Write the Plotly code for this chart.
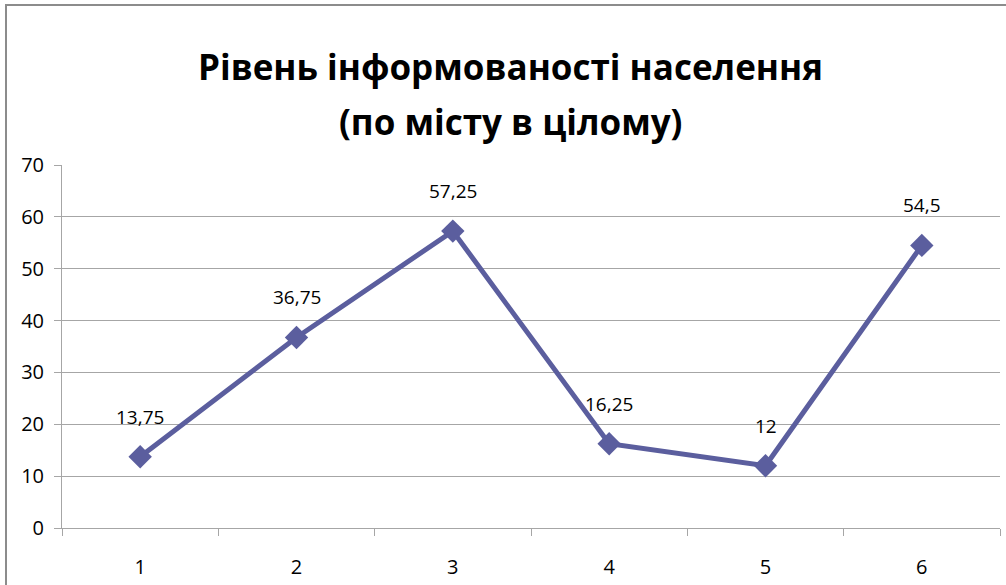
import plotly.graph_objects as go

categories = ["1", "2", "3", "4", "5", "6"]
values = [13.75, 36.75, 57.25, 16.25, 12, 54.5]
title_lines = ["Рівень інформованості населення", "(по місту в цілому)"]
y_ticks = [0, 10, 20, 30, 40, 50, 60, 70]

def fmt(v):
    s = ("%g" % v)
    return s.replace(".", ",")

LINE = "#5B5E9E"
GRID = "#A6A6A6"
FONT = "Open Sans"

fig = go.Figure()
fig.add_trace(go.Scatter(
    x=categories, y=values, mode="lines+markers",
    line=dict(color=LINE, width=5),
    marker=dict(symbol="diamond", size=18, color=LINE),
    hoverinfo="skip", showlegend=False,
))

for i, v in enumerate(values):
    fig.add_annotation(x=i, y=v, text=fmt(v), showarrow=False, yshift=40,
                       font=dict(family=FONT, size=19, color="black"))

fig.add_annotation(xref="paper", yref="paper", x=0.478, y=1.272, text=title_lines[0],
                   showarrow=False, yanchor="middle",
                   font=dict(family=FONT, size=35, color="black", weight="bold"))
fig.add_annotation(xref="paper", yref="paper", x=0.478, y=1.12, text=title_lines[1],
                   showarrow=False, yanchor="middle",
                   font=dict(family=FONT, size=35, color="black", weight="bold"))

# outer chart border (top and left visible in reference)
fig.add_shape(type="rect", xref="paper", yref="paper",
              x0=-0.0597, x1=1.02, y0=-0.2, y1=1.4408,
              line=dict(color="#8C8C8C", width=2), layer="below")

fig.update_xaxes(type="category", tickson="boundaries", ticks="outside", ticklen=7,
                 tickcolor=GRID, showline=True, linecolor=GRID, linewidth=1,
                 showgrid=False, ticklabelstandoff=21, automargin=False,
                 tickfont=dict(family=FONT, size=20, color="black"),
                 range=[-0.5, 5.5])
fig.update_yaxes(range=[0, 70], tickvals=y_ticks, ticks="outside", ticklen=7,
                 tickcolor=GRID, showline=True, linecolor=GRID, linewidth=1,
                 showgrid=True, gridcolor=GRID, gridwidth=1, zeroline=False,
                 automargin=False, ticklabelstandoff=6,
                 tickfont=dict(family=FONT, size=20, color="black"))

fig.update_layout(
    width=1006, height=585,
    margin=dict(l=62, r=6, t=165, b=57),
    paper_bgcolor="white", plot_bgcolor="white",
    font=dict(family=FONT),
)

fig.write_html("out.html", config={"displayModeBar": False},
               post_script="document.body.style.margin='0px';document.body.style.overflow='hidden';")
